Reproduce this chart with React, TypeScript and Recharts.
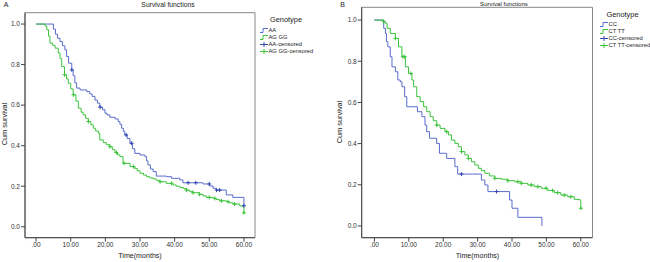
import React from "react";
import {
  ComposedChart,
  Line,
  Scatter,
  XAxis,
  YAxis,
  ReferenceArea,
} from "recharts";

// Kaplan-Meier step points, [months, cumulative survival]
const aaCurve: [number, number][] = [
  [0, 1], [5, 0.975], [5.6, 0.95], [6.2, 0.93], [6.9, 0.914], [7.6, 0.893], [8.3, 0.873],
  [8.8, 0.84], [9.4, 0.807], [10.3, 0.774], [10.7, 0.745], [11.2, 0.71], [11.7, 0.684],
  [12.7, 0.675], [14.6, 0.667], [15.5, 0.655], [16.2, 0.643], [17, 0.625], [17.7, 0.61],
  [18.4, 0.59], [19.2, 0.577], [19.9, 0.56], [20.5, 0.552], [21.3, 0.54], [22.8, 0.532],
  [23.7, 0.519], [24.2, 0.505], [24.7, 0.486], [25.2, 0.47], [25.6, 0.453], [26.3, 0.435],
  [27.1, 0.412], [27.8, 0.385], [28.5, 0.362], [30, 0.354], [31.4, 0.346], [31.9, 0.325],
  [32.3, 0.305], [33, 0.285], [33.8, 0.272], [34.7, 0.25], [37.6, 0.247], [39.1, 0.239],
  [41.5, 0.231], [42.4, 0.217], [48.2, 0.211], [50.1, 0.201], [51.1, 0.19], [52, 0.181],
  [54.9, 0.157], [56.8, 0.145], [60, 0.104],
];
const aaCensored = [10.3, 18.5, 26, 27.6, 43.9, 46.1, 50, 52.1, 53, 60];

const agggCurve: [number, number][] = [
  [0, 1], [2.6, 0.99], [3.1, 0.972], [3.6, 0.94], [4, 0.906], [4.8, 0.895], [5.5, 0.881],
  [6.4, 0.857], [6.9, 0.83], [7.4, 0.79], [8.2, 0.75], [8.8, 0.73], [9.3, 0.708], [10, 0.68],
  [10.7, 0.651], [11.5, 0.62], [12.2, 0.585], [13, 0.565], [13.6, 0.552], [14.3, 0.535],
  [15.1, 0.519], [15.8, 0.503], [16.5, 0.486], [17.2, 0.472], [18, 0.461], [18.4, 0.428],
  [19.4, 0.415], [20.3, 0.405], [21.3, 0.395], [22, 0.38], [22.8, 0.366], [23.5, 0.355],
  [24.2, 0.346], [25.1, 0.313], [27.1, 0.297], [28.5, 0.288], [29.2, 0.276], [30, 0.264],
  [31, 0.255], [31.9, 0.247], [32.8, 0.241], [33.8, 0.236], [34.7, 0.229], [35.7, 0.222],
  [37.6, 0.214], [39.5, 0.206], [40.5, 0.2], [41.5, 0.194], [42.5, 0.188], [43.4, 0.181],
  [44.3, 0.175], [45.3, 0.168], [47.2, 0.16], [48.2, 0.152], [49.2, 0.145], [51.1, 0.14],
  [52, 0.134], [53, 0.128], [54.9, 0.124], [55.8, 0.118], [56.8, 0.112], [58.8, 0.102],
  [60, 0.069],
];
const agggCensored = [8.2, 10.8, 15.1, 21.3, 23.2, 25.4, 28.1, 35.8, 39.1, 43.4, 45.3, 47.2, 50, 51.6, 53.5, 55.4, 57.3, 60];

const ccCurve: [number, number][] = [
  [0, 1], [2.7, 0.96], [3.2, 0.935], [3.5, 0.895], [3.9, 0.87], [4.6, 0.822], [5.1, 0.773],
  [6.1, 0.749], [6.8, 0.709], [7.5, 0.7], [8, 0.676], [8.8, 0.628], [9.4, 0.579],
  [12.5, 0.555], [13.8, 0.531], [14.7, 0.49], [15.2, 0.458], [16, 0.426], [18.1, 0.401],
  [18.9, 0.353], [21, 0.328], [23.4, 0.288], [24.2, 0.252], [31.1, 0.223], [32.1, 0.199],
  [33, 0.167], [39.3, 0.126], [40, 0.086], [41.7, 0.042], [48.7, 0],
];
const ccCensored = [25.3, 35.5];

const cttCurve: [number, number][] = [
  [0, 1], [2.7, 0.992], [3.2, 0.984], [3.7, 0.96], [4.6, 0.935], [6.1, 0.911], [7, 0.87],
  [8, 0.822], [9, 0.773], [9.9, 0.741], [10.9, 0.709], [11.4, 0.676], [12.3, 0.628],
  [13.3, 0.604], [14.3, 0.579], [15.2, 0.555], [16.2, 0.531], [17.1, 0.511], [18.1, 0.49],
  [19.1, 0.474], [20.5, 0.458], [21.5, 0.442], [22.4, 0.417], [23.4, 0.401], [24.4, 0.385],
  [25.3, 0.361], [26.3, 0.345], [27.3, 0.328], [28.2, 0.312], [29.2, 0.296], [30.2, 0.28],
  [31.1, 0.269], [32.1, 0.256], [33.5, 0.243], [35, 0.231], [36.9, 0.227], [38.8, 0.22],
  [40.8, 0.215], [42.7, 0.207], [44.6, 0.199], [46.5, 0.191], [48.5, 0.183], [50.4, 0.172],
  [52.3, 0.162], [54.2, 0.15], [56.2, 0.142], [58.1, 0.129], [59.8, 0.121], [60, 0.086],
];
const cttCensored = [2.7, 6.1, 8.3, 8.8, 10.6, 18.1, 21, 25.3, 27.3, 35, 38.8, 41.7, 42.7, 45.6, 47.5, 49.9, 51.8, 53.3, 55.2, 57.1, 60];

const xTicks = [0, 10, 20, 30, 40, 50, 60];
const yTicks = [0, 0.2, 0.4, 0.6, 0.8, 1.0];

const BLUE = "#5a6ccc";
const BLUE_MARK = "#3446b0";
const GREEN = "#3cc43c";
const FONT = "'Liberation Sans', Arial, sans-serif";

const toRows = (curve: [number, number][]) => curve.map(([t, s]) => ({ t, s }));

// survival value at a censor time
const censorRows = (curve: [number, number][], times: number[]) =>
  times.map((t) => {
    let s = curve[0][1];
    for (const [ct, cs] of curve) if (ct <= t) s = cs;
    return { t, s };
  });

const plusShape = (color: string) => (props: any) => {
  const { cx, cy } = props;
  return (
    <path
      d={`M${cx - 2},${cy}H${cx + 2}M${cx},${cy - 2}V${cy + 2}`}
      stroke={color}
      strokeWidth={1}
      fill="none"
    />
  );
};

const fmtX = (v: number) => (v === 0 ? ".00" : v.toFixed(2));

function StepIcon({ color }: { color: string }) {
  return (
    <svg width={8} height={5} style={{ display: "block" }}>
      <path d="M0,4.5H3V0.5H8" stroke={color} fill="none" strokeWidth={1} />
    </svg>
  );
}

function PlusIcon({ color }: { color: string }) {
  return (
    <svg width={8} height={5} style={{ display: "block" }}>
      <path d="M0,2.5H8M4,0V5" stroke={color} fill="none" strokeWidth={1} />
    </svg>
  );
}

interface PanelProps {
  left: number;
  width: number;
  letter: string;
  titleX: number;
  titleY: number;
  titleSize: number;
  frameLeft: number;
  frameRight: number;
  frameTop: number;
  xDomain: [number, number];
  yDomain: [number, number];
  yLabelX: number;
  yLabelY: number;
  timeX: number;
  legendX: number;
  legendY: number;
  genotypeX: number;
  genotypeY: number;
  names: [string, string];
  blue: [number, number][];
  blueCens: number[];
  green: [number, number][];
  greenCens: number[];
}

function Panel(p: PanelProps) {
  const text = (content: string, x: number, y: number, size: number, extra: any = {}) => (
    <div
      style={{
        position: "absolute",
        left: x,
        top: y,
        transform: "translate(-50%, -50%)",
        fontSize: size,
        fontFamily: FONT,
        color: "#222",
        whiteSpace: "nowrap",
        lineHeight: 1,
        ...extra,
      }}
    >
      {content}
    </div>
  );

  const legendItems = [
    { label: p.names[0], icon: <StepIcon color={BLUE} /> },
    { label: p.names[1], icon: <StepIcon color={GREEN} /> },
    { label: `${p.names[0]}-censored`, icon: <PlusIcon color={BLUE_MARK} /> },
    { label: `${p.names[1]}-censored`, icon: <PlusIcon color={GREEN} /> },
  ];

  return (
    <div style={{ position: "absolute", left: p.left, top: 0, width: p.width, height: 262 }}>
      <ComposedChart
        width={p.width}
        height={262}
        margin={{ top: p.frameTop, right: p.width - p.frameRight, bottom: 0, left: 0 }}
      >
        <XAxis
          type="number"
          dataKey="t"
          domain={p.xDomain}
          allowDataOverflow
          ticks={xTicks}
          tickFormatter={fmtX}
          height={24.3}
          tickSize={4}
          tickMargin={1}
          stroke="#444"
          tick={{ fontSize: 6.5, fill: "#333", fontFamily: FONT }}
        />
        <YAxis
          type="number"
          dataKey="s"
          domain={p.yDomain}
          allowDataOverflow
          ticks={yTicks}
          tickFormatter={(v: number) => v.toFixed(1)}
          width={p.frameLeft}
          tickSize={4}
          tickMargin={1}
          stroke="#444"
          tick={{ fontSize: 6.5, fill: "#333", fontFamily: FONT }}
        />
        <ReferenceArea
          x1={p.xDomain[0]}
          x2={p.xDomain[1]}
          y1={p.yDomain[0]}
          y2={p.yDomain[1]}
          fill="none"
          stroke="#888"
          strokeWidth={1}
          ifOverflow="visible"
        />
        <Line
          data={toRows(p.blue)}
          dataKey="s"
          type="stepAfter"
          stroke={BLUE}
          strokeWidth={1}
          dot={false}
          isAnimationActive={false}
        />
        <Line
          data={toRows(p.green)}
          dataKey="s"
          type="stepAfter"
          stroke={GREEN}
          strokeWidth={1}
          dot={false}
          isAnimationActive={false}
        />
        <Scatter
          data={censorRows(p.green, p.greenCens)}
          dataKey="s"
          shape={plusShape(GREEN)}
          isAnimationActive={false}
        />
        <Scatter
          data={censorRows(p.blue, p.blueCens)}
          dataKey="s"
          shape={plusShape(BLUE_MARK)}
          isAnimationActive={false}
        />
      </ComposedChart>

      {text(p.letter, p.frameLeft - 19, 3.5, 7)}
      {text("Survival functions", p.titleX, p.titleY, p.titleSize)}
      {text("Cum survival", p.yLabelX, p.yLabelY, 7.4, { transform: "translate(-50%, -50%) rotate(-90deg)" })}
      {text("Time(months)", p.timeX, 257, 7.1)}
      {text("Genotype", p.genotypeX, p.genotypeY, 7.4)}

      <div style={{ position: "absolute", left: p.legendX, top: p.legendY }}>
        {legendItems.map((item) => (
          <div
            key={item.label}
            style={{
              display: "flex",
              alignItems: "center",
              height: 7,
              fontSize: 5.8,
              fontFamily: FONT,
              color: "#222",
              whiteSpace: "nowrap",
              lineHeight: 1,
            }}
          >
            {item.icon}
            <span style={{ marginLeft: 0.5 }}>{item.label}</span>
          </div>
        ))}
      </div>
    </div>
  );
}

export default function App() {
  return (
    <div
      style={{
        position: "absolute",
        left: 0,
        top: 0,
        width: 650,
        height: 262,
        background: "#fff",
        overflow: "hidden",
      }}
    >
      <Panel
        left={0}
        width={330}
        letter="A"
        titleX={168}
        titleY={5}
        titleSize={6.8}
        frameLeft={25}
        frameRight={255}
        frameTop={12.7}
        xDomain={[-3.2, 63.2]}
        yDomain={[-0.054, 1.056]}
        yLabelX={4.5}
        yLabelY={124}
        timeX={140}
        legendX={260}
        legendY={27}
        genotypeX={286}
        genotypeY={20}
        names={["AA", "AG GG"]}
        blue={aaCurve}
        blueCens={aaCensored}
        green={agggCurve}
        greenCens={agggCensored}
      />
      <Panel
        left={325}
        width={325}
        letter="B"
        titleX={179}
        titleY={3.5}
        titleSize={6.1}
        frameLeft={36.7}
        frameRight={267.5}
        frameTop={7.3}
        xDomain={[-3.7, 63.4]}
        yDomain={[-0.057, 1.062]}
        yLabelX={15}
        yLabelY={122}
        timeX={152.5}
        legendX={275}
        legendY={21}
        genotypeX={297.5}
        genotypeY={15}
        names={["CC", "CT TT"]}
        blue={ccCurve}
        blueCens={ccCensored}
        green={cttCurve}
        greenCens={cttCensored}
      />
    </div>
  );
}
